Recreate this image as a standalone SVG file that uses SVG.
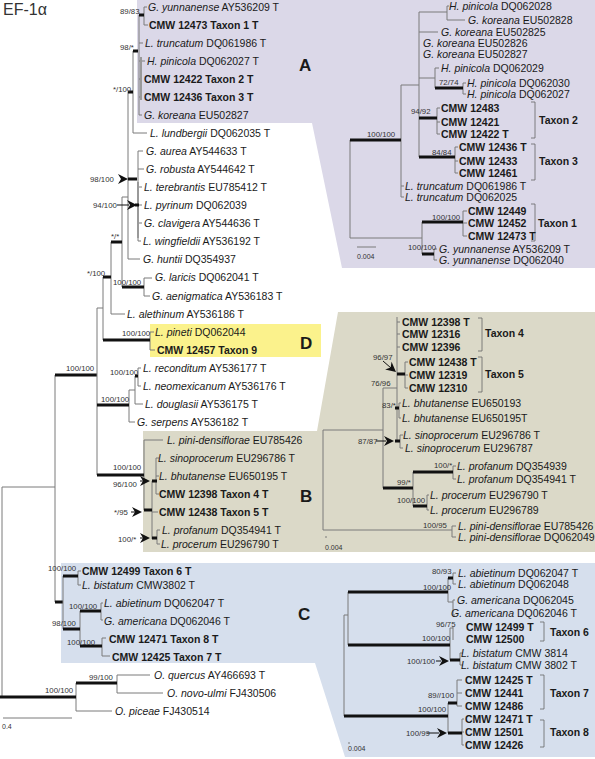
<svg xmlns="http://www.w3.org/2000/svg" width="595" height="759" viewBox="0 0 595 759">
<defs>
<style>
text{font-family:"Liberation Sans",Arial,sans-serif;font-size:10.5px;fill:#1a1a1a}
.i{font-style:italic}
.b{font-weight:bold}
.s{font-size:7.8px;fill:#333}
.sc{font-size:7px;fill:#333}
.big{font-size:17px;font-weight:bold}
.tn{stroke:#7a7a7a;stroke-width:1;fill:none}
.tk{stroke:#111;stroke-width:3;fill:none}
.br{stroke:#666;stroke-width:0.8;fill:none}
.sh{stroke:#111;stroke-width:1;fill:none}
.gv{stroke:#999;stroke-width:2;fill:none}
</style>
<path id="ah" d="M0,0 L-10,-5 L-7,0 L-10,5 Z" fill="#111"/>
</defs>
<rect width="595" height="759" fill="#fff"/>

<g id="panels">
<polygon points="137,0 595,0 595,268 342,268 312,123 137,123" fill="#dbd8e8"/>
<polygon points="143,431 317,431 338,312 595,312 595,552 143,552" fill="#dbd9c8"/>
<rect x="150" y="324" width="171" height="33" fill="#fbf28c"/>
<polygon points="61,563 595,563 595,757 345,757 315,663 61,663" fill="#d6dfed"/>
</g>

<g id="title"><text x="3" y="15" style="font-size:16px;fill:#333">EF-1α</text></g>
<g id="labelA"><text class="big" x="299" y="71">A</text></g>
<g id="labelB"><text class="big" x="300" y="502">B</text></g>
<g id="labelC"><text class="big" x="298" y="620">C</text></g>
<g id="labelD"><text class="big" x="300" y="349">D</text></g>

<g id="connectors">
<!-- main tree -->
<path class="tn" d="M2,487V697M2,487H55M76,683V711M117,675V693M117,675H150M117,693H163M76,711H112"/>
<path class="tk" d="M0,697H76M76,683H117"/>
<path class="tn" d="M55,375V602"/>
<path class="tk" d="M55,375H97M55,602H63"/>
<path class="tn" d="M63,576V629M78,571V585M78,571H81M78,585H81M80,611V646M101,603V620M101,603H103M101,620H103M102,638V656M102,638H106M102,656H110"/>
<path class="tk" d="M63,576H78M63,629H80M80,611H101M80,646H102"/>
<path class="tn" d="M97,308V475M97,308H103M103,277V340M150,332V350M150,332H154M150,350H155M111,242V314M111,314H125M122,197V287M144,278V296M144,278H152M144,296H150M122,197H128M128,92V259M128,259H140M133,51V133M133,133H147M139,15V115M144,7V25M144,7H147M144,25H148M139,43H143M139,61H145M139,79H142M139,97H142M139,115H142M138,151V241M138,151H143M138,169H144M138,187H142M138,205H142M138,223H142M138,241H141"/>
<path class="gv" d="M141,57V100M138,182V238"/>
<path class="tk" d="M103,277H111M103,340H150M111,242H122M122,287H144M128,92H133M133,51H138M139,15H144M128,179H137M135,205H139"/>
<path class="sh" d="M117,205H129"/>
<use href="#ah" x="128" y="179"/>
<use href="#ah" x="137" y="205"/>
<path class="tn" d="M129,390V422M129,422H135M129,390H135M135,376V404M135,404H143M138,368V386M138,368H141M138,386H141"/>
<path class="tk" d="M97,405H129M135,376H138"/>
<path class="tn" d="M144,440V510M144,440H163M152,481V539M156,458V494M156,458H159M156,476H159M156,494H159M152,512H158M157,530V544M157,530H160M157,544H160"/>
<path class="tk" d="M97,475H144M144,510H152M152,481H157M152,538H157"/>
<path class="sh" d="M131,512H137M140,481H144M140,538H144"/>
<use href="#ah" x="150" y="481"/>
<use href="#ah" x="142" y="512"/>
<use href="#ah" x="150" y="538"/>
<path class="tn" d="M3,718H72"/>

<!-- panel A right -->
<path class="tn" d="M350,140V238M401,85V197M401,186H404M401,197H404M401,85H419M419,12V157M419,12H447M447,6V20M447,6H449M447,20H465M419,32H438M419,78H435M435,68V88M435,68H439M463,83V94M463,83H466M463,94H466M437,108V134M437,108H440M437,122H440M437,134H440M455,147V173M455,147H458M455,161H458M455,173H458M350,238H422M422,222V254M463,211V236M463,211H467M463,223H467M463,236H467M434,249V260M434,249H437M434,260H437M357,247H376"/>
<path class="tk" d="M350,140H401M435,88H463M419,118H437M419,157H455M422,222H463M422,254H434"/>
<path class="br" d="M531,102H535V138H531M531,144H535V180H531M531,204H535V241H531"/>

<!-- panel B right -->
<path class="tn" d="M323,430V530M323,430H383M323,530H452M452,526V537M452,526H456M452,537H456M383,388V488M383,388H397M413,472V506M453,466V479M453,466H456M453,479H456M427,495V510M427,495H429M427,510H429M397,317V442M397,322H400M397,334H400M397,347H400M405,362V388M405,362H408M405,375H408M405,388H408M399,403V418M399,403H401M399,418H401M400,435V448M400,435H403M400,448H403M325,537H327"/>
<path class="tk" d="M383,488H413M413,472H453M413,506H427M397,374H405M395,408H399M395,441H400"/>
<path class="sh" d="M383,361L391,368M376,441H386"/>
<use href="#ah" transform="translate(396,372) rotate(40)"/>
<use href="#ah" x="394" y="441"/>
<path class="br" d="M478,318H482V351H478M478,357H482V392H478"/>

<!-- panel C right -->
<path class="tn" d="M344,615V716M344,615H348M348,592V645M448,578V602M453,573V584M453,573H456M453,584H456M448,602H453M453,600V615M453,600H455M453,615H455M450,628V660M450,628H453M453,627V640M460,653V665M460,653H463M460,665H463M448,703V733M457,680V706M457,680H462M457,693H462M457,706H462M462,719V745M462,719H464M462,732H464M462,745H464M348,743H350"/>
<path class="tk" d="M348,592H448M448,578H453M348,645H450M450,660H460M344,716H448M448,703H457M448,733H462"/>
<path class="sh" d="M436,661H441M427,733H439"/>
<use href="#ah" x="449" y="661"/>
<use href="#ah" x="447" y="733"/>
<path class="br" d="M540,622H544V641H540M540,675H544V709H540M540,720H544V747H540"/>
</g>

<g id="support">
<text class="s" x="120" y="13.5">89/83</text>
<text class="s" x="120" y="50">98/*</text>
<text class="s" x="113" y="92">*/100</text>
<text class="s" x="90" y="182">98/100</text>
<text class="s" x="93" y="208">94/100</text>
<text class="s" x="111" y="239">*/*</text>
<text class="s" x="87" y="276">*/100</text>
<text class="s" x="113" y="285">100/100</text>
<text class="s" x="122" y="336">100/100</text>
<text class="s" x="66" y="371">100/100</text>
<text class="s" x="110" y="375">100/100</text>
<text class="s" x="101" y="402">100/100</text>
<text class="s" x="113" y="470">100/100</text>
<text class="s" x="113" y="487">96/100</text>
<text class="s" x="114" y="515">*/95</text>
<text class="s" x="118" y="542">100/*</text>
<text class="s" x="48" y="571">100/100</text>
<text class="s" x="69" y="609">100/100</text>
<text class="s" x="52" y="626">98/100</text>
<text class="s" x="67" y="645">100/100</text>
<text class="s" x="89" y="680">99/100</text>
<text class="s" x="45" y="693">100/100</text>
<text class="sc" x="2" y="729">0.4</text>
<text class="s" x="367" y="137">100/100</text>
<text class="s" x="439" y="85">72/74</text>
<text class="s" x="411" y="114">94/92</text>
<text class="s" x="432" y="155">84/84</text>
<text class="s" x="432" y="220">100/100</text>
<text class="s" x="408" y="250">100/100</text>
<text class="sc" x="357" y="259">0.004</text>
<text class="s" x="373" y="360">96/97</text>
<text class="s" x="371" y="386">76/96</text>
<text class="s" x="382" y="408">83/*</text>
<text class="s" x="358" y="444">87/87</text>
<text class="s" x="434" y="468">100/*</text>
<text class="s" x="397" y="485">99/*</text>
<text class="s" x="397" y="503">100/100</text>
<text class="s" x="423" y="528">100/95</text>
<text class="sc" x="325" y="550">0.004</text>
<text class="s" x="432" y="574">80/93</text>
<text class="s" x="423" y="590">100/100</text>
<text class="s" x="436" y="627">96/75</text>
<text class="s" x="422" y="641">100/100</text>
<text class="s" x="407" y="664">100/100</text>
<text class="s" x="428" y="698">89//100</text>
<text class="s" x="418" y="712">100/100</text>
<text class="s" x="406" y="736">100/99</text>
<text class="sc" x="348" y="751">0.004</text>
</g>

<g id="main-leaves">
<g id="m01"><text x="148" y="11"><tspan class="i">G. yunnanense</tspan> AY536209 T</text></g>
<g id="m02"><text class="b" x="149" y="29">CMW 12473 Taxon 1 T</text></g>
<g id="m03"><text x="145" y="47"><tspan class="i">L. truncatum</tspan> DQ061986 T</text></g>
<g id="m04"><text x="147" y="65"><tspan class="i">H. pinicola</tspan> DQ062027 T</text></g>
<g id="m05"><text class="b" x="144" y="83">CMW 12422 Taxon 2 T</text></g>
<g id="m06"><text class="b" x="144" y="101">CMW 12436 Taxon 3 T</text></g>
<g id="m07"><text x="144" y="119"><tspan class="i">G. koreana</tspan> EU502827</text></g>
<g id="m08"><text x="150" y="137"><tspan class="i">L. lundbergii</tspan> DQ062035 T</text></g>
<g id="m09"><text x="146" y="155"><tspan class="i">G. aurea</tspan> AY544633 T</text></g>
<g id="m10"><text x="146" y="173"><tspan class="i">G. robusta</tspan> AY544642 T</text></g>
<g id="m11"><text x="144" y="191"><tspan class="i">L. terebrantis</tspan> EU785412 T</text></g>
<g id="m12"><text x="144" y="209"><tspan class="i">L. pyrinum</tspan> DQ062039</text></g>
<g id="m13"><text x="144" y="227"><tspan class="i">G. clavigera</tspan> AY544636 T</text></g>
<g id="m14"><text x="143" y="245"><tspan class="i">L. wingfieldii</tspan> AY536192 T</text></g>
<g id="m15"><text x="143" y="263"><tspan class="i">G. huntii</tspan> DQ354937</text></g>
<g id="m16"><text x="155" y="281"><tspan class="i">G. laricis</tspan> DQ062041 T</text></g>
<g id="m17"><text x="152" y="300"><tspan class="i">G. aenigmatica</tspan> AY536183 T</text></g>
<g id="m18"><text x="127" y="318"><tspan class="i">L. alethinum</tspan> AY536186 T</text></g>
<g id="m19"><text x="155" y="336"><tspan class="i">L. pineti</tspan> DQ062044</text></g>
<g id="m20"><text class="b" x="157" y="354">CMW 12457 Taxon 9</text></g>
<g id="m21"><text x="143" y="372"><tspan class="i">L. reconditum</tspan> AY536177 T</text></g>
<g id="m22"><text x="143" y="390"><tspan class="i">L. neomexicanum</tspan> AY536176 T</text></g>
<g id="m23"><text x="145" y="408"><tspan class="i">L. douglasii</tspan> AY536175 T</text></g>
<g id="m24"><text x="137" y="426"><tspan class="i">G. serpens</tspan> AY536182 T</text></g>
<g id="m25"><text x="167" y="444"><tspan class="i">L. pini-densiflorae</tspan> EU785426</text></g>
<g id="m26"><text x="158" y="462"><tspan class="i">L. sinoprocerum</tspan> EU296786 T</text></g>
<g id="m27"><text x="159" y="480"><tspan class="i">L. bhutanense</tspan> EU650195 T</text></g>
<g id="m28"><text class="b" x="159" y="498">CMW 12398 Taxon 4 T</text></g>
<g id="m29"><text class="b" x="159" y="516">CMW 12438 Taxon 5 T</text></g>
<g id="m30"><text x="162" y="534"><tspan class="i">L. profanum</tspan> DQ354941 T</text></g>
<g id="m31"><text x="161" y="548"><tspan class="i">L. procerum</tspan> EU296790 T</text></g>
<g id="m32"><text class="b" x="82" y="575">CMW 12499 Taxon 6 T</text></g>
<g id="m33"><text x="82" y="589"><tspan class="i">L. bistatum</tspan> CMW3802 T</text></g>
<g id="m34"><text x="104" y="607"><tspan class="i">L. abietinum</tspan> DQ062047 T</text></g>
<g id="m35"><text x="104" y="625"><tspan class="i">G. americana</tspan> DQ062046 T</text></g>
<g id="m36"><text class="b" x="109" y="643">CMW 12471 Taxon 8 T</text></g>
<g id="m37"><text class="b" x="112" y="661">CMW 12425 Taxon 7 T</text></g>
<g id="m38"><text x="154" y="679"><tspan class="i">O. quercus</tspan> AY466693 T</text></g>
<g id="m39"><text x="167" y="697"><tspan class="i">O. novo-ulmi</tspan> FJ430506</text></g>
<g id="m40"><text x="115" y="715"><tspan class="i">O. piceae</tspan> FJ430514</text></g>
</g>

<g id="A-leaves">
<g id="a01"><text x="449" y="10"><tspan class="i">H. pinicola</tspan> DQ062028</text></g>
<g id="a02"><text x="468" y="24"><tspan class="i">G. koreana</tspan> EU502828</text></g>
<g id="a03"><text x="441" y="36"><tspan class="i">G. koreana</tspan> EU502825</text></g>
<g id="a04"><text x="423" y="47"><tspan class="i">G. koreana</tspan> EU502826</text></g>
<g id="a05"><text x="423" y="58"><tspan class="i">G. koreana</tspan> EU502827</text></g>
<g id="a06"><text x="441" y="72"><tspan class="i">H. pinicola</tspan> DQ062029</text></g>
<g id="a07"><text x="467" y="87"><tspan class="i">H. pinicola</tspan> DQ062030</text></g>
<g id="a08"><text x="467" y="98"><tspan class="i">H. pinicola</tspan> DQ062027</text></g>
<g id="a09"><text class="b" x="441" y="112">CMW 12483</text></g>
<g id="a10"><text class="b" x="441" y="126">CMW 12421</text></g>
<g id="a11"><text class="b" x="441" y="138">CMW 12422  T</text></g>
<g id="a12"><text class="b" x="459" y="151">CMW 12436 T</text></g>
<g id="a13"><text class="b" x="459" y="165">CMW 12433</text></g>
<g id="a14"><text class="b" x="459" y="177">CMW 12461</text></g>
<g id="a15"><text x="405" y="190"><tspan class="i">L. truncatum</tspan> DQ061986 T</text></g>
<g id="a16"><text x="405" y="201"><tspan class="i">L. truncatum</tspan> DQ062025</text></g>
<g id="a17"><text class="b" x="468" y="215">CMW 12449</text></g>
<g id="a18"><text class="b" x="468" y="227">CMW 12452</text></g>
<g id="a19"><text class="b" x="468" y="240">CMW 12473 T</text></g>
<g id="a20"><text x="439" y="253"><tspan class="i">G. yunnanense</tspan> AY536209 T</text></g>
<g id="a21"><text x="439" y="264"><tspan class="i">G. yunnanense</tspan> DQ062040</text></g>
<g id="tx2"><text class="b" x="539" y="124">Taxon 2</text></g>
<g id="tx3"><text class="b" x="539" y="165">Taxon 3</text></g>
<g id="tx1"><text class="b" x="538" y="227">Taxon 1</text></g>
</g>

<g id="B-leaves">
<g id="b01"><text class="b" x="402" y="326">CMW 12398 T</text></g>
<g id="b02"><text class="b" x="402" y="338">CMW 12316</text></g>
<g id="b03"><text class="b" x="402" y="351">CMW 12396</text></g>
<g id="b04"><text class="b" x="409" y="366">CMW 12438 T</text></g>
<g id="b05"><text class="b" x="409" y="379">CMW 12319</text></g>
<g id="b06"><text class="b" x="409" y="392">CMW 12310</text></g>
<g id="b07"><text x="402" y="407"><tspan class="i">L. bhutanense</tspan> EU650193</text></g>
<g id="b08"><text x="402" y="422"><tspan class="i">L. bhutanense</tspan> EU650195T</text></g>
<g id="b09"><text x="403" y="439"><tspan class="i">L. sinoprocerum</tspan> EU296786 T</text></g>
<g id="b10"><text x="405" y="452"><tspan class="i">L. sinoprocerum</tspan> EU296787</text></g>
<g id="b11"><text x="457" y="470"><tspan class="i">L. profanum</tspan> DQ354939</text></g>
<g id="b12"><text x="457" y="483"><tspan class="i">L. profanum</tspan> DQ354941 T</text></g>
<g id="b13"><text x="430" y="499"><tspan class="i">L. procerum</tspan> EU296790 T</text></g>
<g id="b14"><text x="430" y="514"><tspan class="i">L. procerum</tspan> EU296789</text></g>
<g id="b15"><text x="458" y="530"><tspan class="i">L. pini-densiflorae</tspan> EU785426</text></g>
<g id="b16"><text x="458" y="541"><tspan class="i">L. pini-densiflorae</tspan> DQ062049</text></g>
<g id="tx4"><text class="b" x="485" y="337">Taxon  4</text></g>
<g id="tx5"><text class="b" x="485" y="378">Taxon 5</text></g>
</g>

<g id="C-leaves">
<g id="c01"><text x="458" y="577"><tspan class="i">L. abietinum</tspan> DQ062047 T</text></g>
<g id="c02"><text x="458" y="588"><tspan class="i">L. abietinum</tspan> DQ062048</text></g>
<g id="c03"><text x="457" y="604"><tspan class="i">G. americana</tspan>  DQ062045</text></g>
<g id="c04"><text x="451" y="617"><tspan class="i">G. americana</tspan>  DQ062046 T</text></g>
<g id="c05"><text class="b" x="466" y="631">CMW 12499 T</text></g>
<g id="c06"><text class="b" x="466" y="643">CMW 12500</text></g>
<g id="c07"><text x="461" y="657"><tspan class="i">L. bistatum</tspan> CMW 3814</text></g>
<g id="c08"><text x="461" y="669"><tspan class="i">L. bistatum</tspan> CMW 3802 T</text></g>
<g id="c09"><text class="b" x="465" y="684">CMW 12425 T</text></g>
<g id="c10"><text class="b" x="465" y="697">CMW 12441</text></g>
<g id="c11"><text class="b" x="465" y="710">CMW 12486</text></g>
<g id="c12"><text class="b" x="465" y="723">CMW 12471  T</text></g>
<g id="c13"><text class="b" x="465" y="736">CMW 12501</text></g>
<g id="c14"><text class="b" x="465" y="749">CMW 12426</text></g>
<g id="tx6"><text class="b" x="550" y="636">Taxon 6</text></g>
<g id="tx7"><text class="b" x="550" y="697">Taxon 7</text></g>
<g id="tx8"><text class="b" x="550" y="736">Taxon 8</text></g>
</g>
</svg>
